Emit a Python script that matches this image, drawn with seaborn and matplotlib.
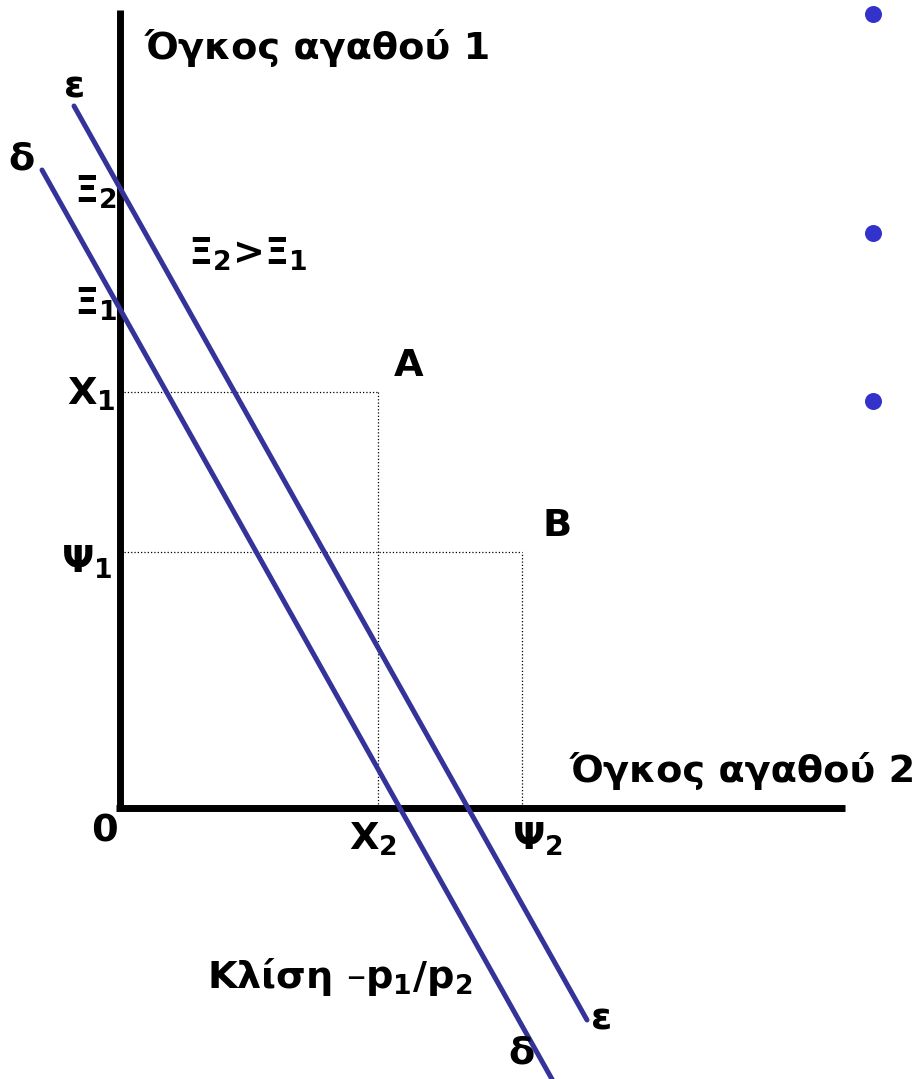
import numpy as np
import pandas as pd
import matplotlib.pyplot as plt
import seaborn as sns

sns.set_theme(style="white")
plt.rcParams['font.family'] = ['DejaVu Sans']
plt.rcParams['mathtext.default'] = 'bf'

## data (units: origin at the axis corner)
delta_x = [-7.8, 43.3]      # budget line δ
delta_y = [63.8, -27.3]
eps_x = [-4.6, 46.7]        # budget line ε
eps_y = [70.2, -21.2]

point_A = (25.8, 41.6)      # (Χ2, Χ1)
point_B = (40.2, 25.6)      # (Ψ2, Ψ1)

bullet_x = [75.3, 75.3, 75.3]
bullet_y = [79.4, 57.5, 40.7]

blue = '#333399'

fig = plt.figure(figsize=(9.24, 10.79), dpi=100)
ax = fig.add_axes([0, 0, 1, 1])
ax.set_xlim(-12, 80.4)
ax.set_ylim(-27.1, 80.8)
ax.axis('off')

# axes of the diagram
ax.plot([0, 0], [-0.1, 79.8], color='black', lw=5, solid_capstyle='butt')
ax.plot([-0.35, 72.5], [0, 0], color='black', lw=5, solid_capstyle='butt')

# dotted guides
for px, py in [point_A, point_B]:
    ax.plot([0.4, px], [py, py], color='black', lw=0.9, ls=':')
    ax.plot([px, px], [0.4, py], color='black', lw=0.9, ls=':')

# budget lines
lines = pd.DataFrame({
    'x': delta_x + eps_x,
    'y': delta_y + eps_y,
    'line': ['δ', 'δ', 'ε', 'ε'],
})
sns.lineplot(data=lines, x='x', y='y', units='line', estimator=None, sort=False,
             color=blue, lw=3.6, ax=ax)

# bullets on the right
sns.scatterplot(x=bullet_x, y=bullet_y, color='#3333CC', s=150, linewidth=0, ax=ax)

fs = 27.5
kw = dict(fontsize=fs, fontweight='bold', color='black')
ax.text(2.5, 76.0, 'Όγκος αγαθού 1', ha='left', va='center', **kw)
ax.text(45.0, 2.6, 'Όγκος αγαθού 2', ha='left', va='baseline', **kw)
ax.text(-4.5, 72.0, 'ε', ha='center', va='center', **kw)
ax.text(-9.8, 64.8, 'δ', ha='center', va='center', **kw)
ax.text(48.2, -21.1, 'ε', ha='center', va='center', **kw)
ax.text(40.2, -24.5, 'δ', ha='center', va='center', **kw)
ax.text(-0.3, 60.5, 'Ξ$_2$', ha='right', va='baseline', **kw)
ax.text(-0.3, 49.3, 'Ξ$_1$', ha='right', va='baseline', **kw)
ax.text(-0.4, 40.3, 'Χ$_1$', ha='right', va='baseline', **kw)
ax.text(-0.7, 23.5, 'Ψ$_1$', ha='right', va='baseline', **kw)
ax.text(6.8, 54.3, 'Ξ$_2$>Ξ$_1$', ha='left', va='baseline', **kw)
ax.text(28.9, 44.2, 'A', ha='center', va='center', **kw)
ax.text(43.7, 28.2, 'B', ha='center', va='center', **kw)
ax.text(-1.5, -2.3, '0', ha='center', va='center', **kw)
ax.text(22.9, -4.2, 'Χ$_2$', ha='left', va='baseline', **kw)
ax.text(39.2, -4.2, 'Ψ$_2$', ha='left', va='baseline', **kw)
ax.text(8.7, -18.0, 'Κλίση –p$_1$/p$_2$', ha='left', va='baseline', **kw)

fig.savefig('out.png', dpi=100)
